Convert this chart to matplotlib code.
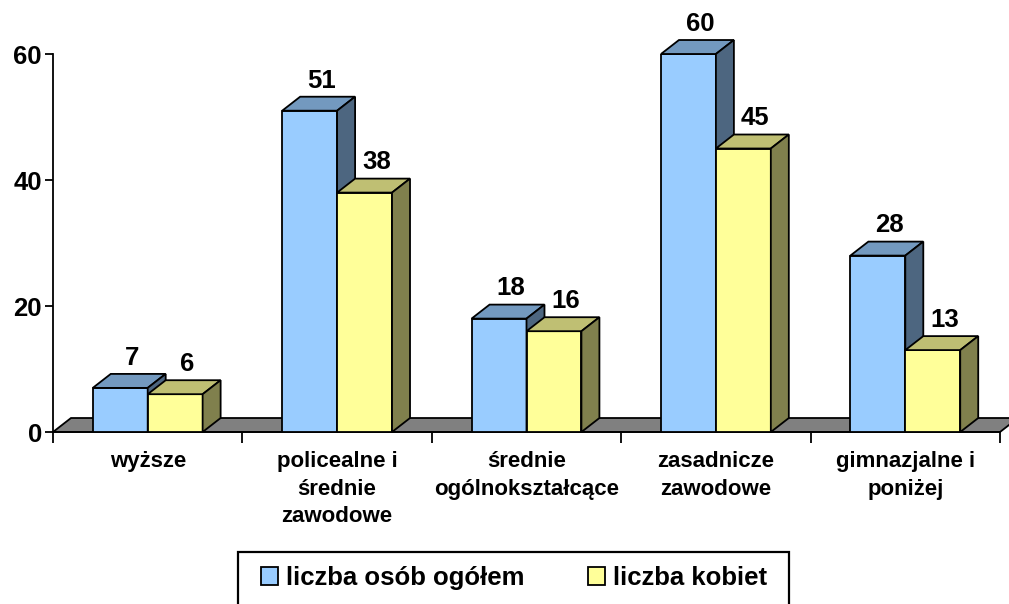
import matplotlib
matplotlib.use('Agg')
import matplotlib.pyplot as plt
from matplotlib.patches import Polygon, Patch, Rectangle
import numpy as np

categories = ['wyższe', 'policealne i\nśrednie\nzawodowe', 'średnie\nogólnokształcące',
              'zasadnicze\nzawodowe', 'gimnazjalne i\nponiżej']
ogolem = [7, 51, 18, 60, 28]
kobiety = [6, 38, 16, 45, 13]
series_names = ['liczba osób ogółem', 'liczba kobiet']

plt.rcParams['font.family'] = ['Liberation Sans', 'DejaVu Sans']
plt.rcParams['font.weight'] = 'bold'

# colours: front, top, side
blue = ('#99CCFF', '#7399BF', '#4D6680')
yellow = ('#FFFF99', '#BFBF73', '#80804D')

bw = 0.29     # width of one bar (category units)
dx = 0.095    # 3d depth offset in x
dy = 2.22     # 3d depth offset in y
lw = 1.3

W, H = 1009, 604
fig = plt.figure(figsize=(W/100, H/100), dpi=100)
ax = fig.add_axes([53/W, (H-432)/H, (1000-53)/W, (432-54)/H])
ax.set_xlim(-0.5, 4.5)
ax.set_ylim(0, 60)

x = np.arange(len(categories))

# floor
ax.add_patch(Polygon([(-0.5, 0), (-0.5 + dx, dy), (4.5 + dx, dy), (4.5, 0)], closed=True,
                     fc='#808080', ec='black', lw=lw, zorder=2, clip_on=False))


def bar3d(xs, vals, cols):
    bars = ax.bar(xs, vals, width=bw, align='edge', color=cols[0], edgecolor='black',
                  linewidth=lw, zorder=3)
    for b in bars:
        x0 = b.get_x()
        x1 = x0 + b.get_width()
        h = b.get_height()
        ax.add_patch(Polygon([(x0, h), (x0 + dx, h + dy), (x1 + dx, h + dy), (x1, h)], closed=True,
                             fc=cols[1], ec='black', lw=lw, zorder=3, clip_on=False))
        ax.add_patch(Polygon([(x1, 0), (x1, h), (x1 + dx, h + dy), (x1 + dx, dy)], closed=True,
                             fc=cols[2], ec='black', lw=lw, zorder=3, clip_on=False))
        ax.annotate(str(int(h)), (x0 + bw/2 + dx*0.65, h + dy), xytext=(0, 3),
                    textcoords='offset points', ha='center', va='bottom',
                    fontsize=18.5, fontweight='bold', annotation_clip=False)


bar3d(x - bw, ogolem, blue)
bar3d(x, kobiety, yellow)

ax.spines['top'].set_visible(False)
ax.spines['right'].set_visible(False)
ax.spines['left'].set_linewidth(lw)
ax.spines['bottom'].set_linewidth(lw)

ax.set_yticks([0, 20, 40, 60])
ax.tick_params(axis='y', labelsize=18.5, length=6, width=lw, pad=2)

ax.set_xticks(np.arange(-0.5, 5, 1))
ax.set_xticklabels([])
ax.tick_params(axis='x', which='major', length=8, width=lw)
ax.set_xticks(x, minor=True)
ax.set_xticklabels(categories, minor=True, fontsize=16, fontweight='bold', linespacing=1.4)
ax.tick_params(axis='x', which='minor', length=0, pad=14)

# legend box
fig.patches.append(Rectangle((238/W, -10/H), (789-238)/W, (H-552+10)/H, transform=fig.transFigure,
                             fc='white', ec='black', lw=1.6, figure=fig))
handles = [Patch(fc=blue[0], ec='black', lw=lw, label=series_names[0]),
           Patch(fc=yellow[0], ec='black', lw=lw, label=series_names[1])]
fig.legend(handles=handles, loc='center', bbox_to_anchor=(514/W, 1 - 578/H),
           ncol=2, frameon=False, prop={'size': 18.5, 'weight': 'bold'},
           handlelength=0.65, handleheight=0.65, handletextpad=0.3, columnspacing=2.5,
           borderpad=0, borderaxespad=0)

fig.savefig('out.png', dpi=100)
